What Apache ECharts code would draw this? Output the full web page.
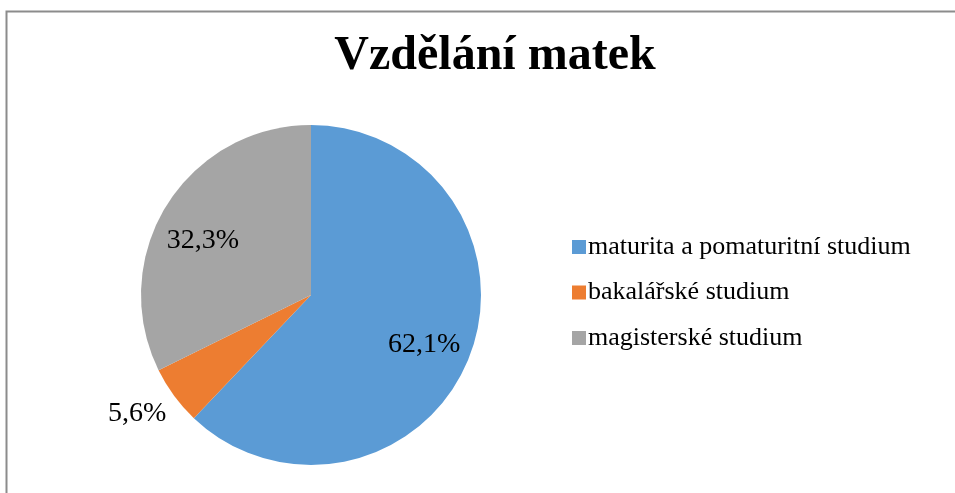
<!DOCTYPE html>
<html>
<head>
<meta charset="utf-8">
<script src="https://cdn.jsdelivr.net/npm/echarts@6/dist/echarts.min.js"></script>
<style>
  html, body { margin: 0; padding: 0; background: #fff; }
  #chart { width: 955px; height: 493px; }
</style>
</head>
<body>
<div id="chart"></div>
<script>
// data
var categories = ['maturita a pomaturitní studium', 'bakalářské studium', 'magisterské studium'];
var shares = [62.1, 5.6, 32.3];
var colors = ['#5B9BD5', '#ED7D31', '#A5A5A5'];

var chart = echarts.init(document.getElementById('chart'));
var serif = '"Liberation Serif", "DejaVu Serif", serif';

function fmt(v) {
  return v.toFixed(1).replace('.', ',') + '%';
}

var pieData = categories.map(function (c, i) {
  return {
    name: c,
    value: shares[i],
    itemStyle: { color: colors[i] },
    label: i === 1 ? { show: true, offset: [10, 8] } : { show: false }
  };
});

// label-only pie, bigger radius so "inside" labels sit further out
var labelData = categories.map(function (c, i) {
  return {
    name: c,
    value: shares[i],
    label: { show: i !== 1, offset: i === 2 ? [-2, 12] : [-3, 3] }
  };
});

chart.setOption({
  animation: false,
  title: {
    text: 'Vzdělání matek',
    left: 490,
    textAlign: 'center',
    top: 28,
    textStyle: { fontFamily: serif, fontSize: 48, fontWeight: 'bold', color: '#000' }
  },
  legend: {
    orient: 'vertical',
    left: 567,
    top: 229,
    icon: 'rect',
    itemWidth: 14,
    itemHeight: 14,
    itemGap: 19.5,
    data: categories,
    textStyle: { fontFamily: serif, fontSize: 26, lineHeight: 26, color: '#000', padding: [0, 0, 0, -3] }
  },
  graphic: [{
    type: 'polyline',
    shape: { points: [[6.5, 493], [6.5, 11.5], [955, 11.5]] },
    style: { stroke: '#8c8c8c', lineWidth: 2, fill: null },
    silent: true
  }],
  series: [{
    type: 'pie',
    center: [311, 295],
    radius: [0, 170],
    startAngle: 90,
    clockwise: true,
    data: pieData,
    label: {
      position: 'outside',
      formatter: function (p) { return fmt(p.value); },
      fontFamily: serif,
      fontSize: 28,
      color: '#000'
    },
    labelLine: { show: false, length: 16, length2: 0 },
    emphasis: { disabled: true }
  }, {
    type: 'pie',
    center: [311, 295],
    radius: [0, 244],
    startAngle: 90,
    clockwise: true,
    silent: true,
    data: labelData,
    itemStyle: { color: 'transparent' },
    label: {
      position: 'inside',
      formatter: function (p) { return fmt(p.value); },
      fontFamily: serif,
      fontSize: 28,
      color: '#000'
    },
    labelLine: { show: false },
    emphasis: { disabled: true },
    tooltip: { show: false }
  }]
});
</script>
</body>
</html>
